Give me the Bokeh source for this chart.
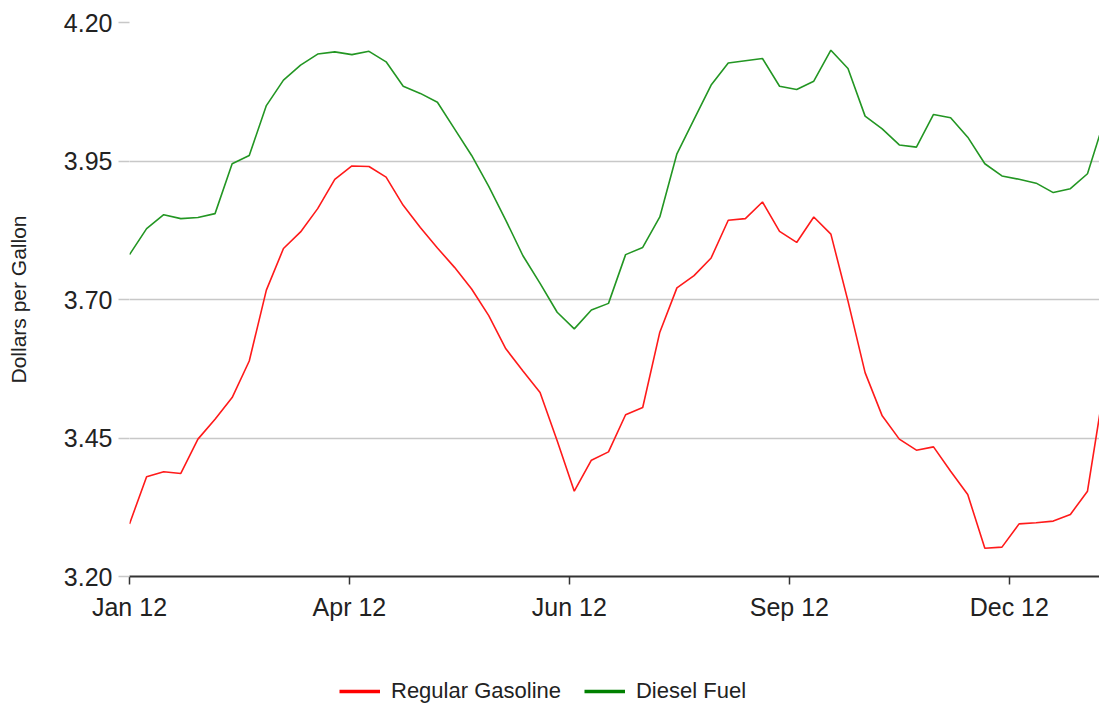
import pandas as pd
from datetime import datetime
from bokeh.plotting import figure
from bokeh.layouts import column
from bokeh.models import (FixedTicker, NumeralTickFormatter, DatetimeTickFormatter,
                          Range1d, Legend, LegendItem, ColumnDataSource)
from bokeh.embed import file_html
from bokeh.resources import INLINE

# ---------------- data ----------------
dates = [
    "2012-01-02", "2012-01-09", "2012-01-16", "2012-01-23", "2012-01-30",
    "2012-02-06", "2012-02-13", "2012-02-20", "2012-02-27", "2012-03-05",
    "2012-03-12", "2012-03-19", "2012-03-26", "2012-04-02", "2012-04-09",
    "2012-04-16", "2012-04-23", "2012-04-30", "2012-05-07", "2012-05-14",
    "2012-05-21", "2012-05-28", "2012-06-04", "2012-06-11", "2012-06-18",
    "2012-06-25", "2012-07-02", "2012-07-09", "2012-07-16", "2012-07-23",
    "2012-07-30", "2012-08-06", "2012-08-13", "2012-08-20", "2012-08-27",
    "2012-09-03", "2012-09-10", "2012-09-17", "2012-09-24", "2012-10-01",
    "2012-10-08", "2012-10-15", "2012-10-22", "2012-10-29", "2012-11-05",
    "2012-11-12", "2012-11-19", "2012-11-26", "2012-12-03", "2012-12-10",
    "2012-12-17", "2012-12-24", "2012-12-31", "2013-01-07", "2013-01-14",
    "2013-01-21", "2013-01-28", "2013-02-04",
]

regular_gasoline = [
    3.295, 3.380, 3.389, 3.386, 3.448, 3.484, 3.523, 3.589, 3.717, 3.792,
    3.822, 3.864, 3.917, 3.941, 3.940, 3.921, 3.870, 3.830, 3.793, 3.758,
    3.719, 3.671, 3.611, 3.571, 3.532, 3.445, 3.354, 3.410, 3.425, 3.492,
    3.505, 3.641, 3.721, 3.743, 3.775, 3.843, 3.846, 3.876, 3.823, 3.803,
    3.849, 3.818, 3.697, 3.568, 3.490, 3.448, 3.428, 3.434, 3.390, 3.348,
    3.251, 3.253, 3.295, 3.297, 3.300, 3.312, 3.354, 3.548,
]

diesel_fuel = [
    3.781, 3.828, 3.853, 3.846, 3.848, 3.855, 3.945, 3.960, 4.050, 4.096,
    4.123, 4.143, 4.147, 4.142, 4.148, 4.129, 4.085, 4.072, 4.056, 4.008,
    3.960, 3.904, 3.843, 3.779, 3.729, 3.677, 3.647, 3.681, 3.693, 3.781,
    3.794, 3.849, 3.963, 4.025, 4.087, 4.127, 4.131, 4.135, 4.085, 4.079,
    4.094, 4.150, 4.117, 4.031, 4.008, 3.979, 3.975, 4.034, 4.028, 3.993,
    3.945, 3.923, 3.917, 3.910, 3.893, 3.900, 3.927, 4.025,
]

x_tick_dates = ["2012-01-02", "2012-04-01", "2012-06-30", "2012-09-28", "2012-12-27"]
y_ticks = [3.20, 3.45, 3.70, 3.95, 4.20]
series_names = ["Regular Gasoline", "Diesel Fuel"]
series_colors = ["#ff1a1a", "#239623"]
legend_colors = ["#ff0000", "#008000"]

# ---------------- main chart ----------------
FONT = "Liberation Sans"
TEXT = "#222222"

src = ColumnDataSource(dict(
    date=pd.to_datetime(dates),
    gas=regular_gasoline,
    diesel=diesel_fuel,
))

p = figure(
    width=1099, height=640,
    x_axis_type="datetime",
    x_range=Range1d(datetime(2012, 1, 2), datetime(2013, 2, 1, 22)),
    y_range=Range1d(3.20, 4.20),
    output_backend="svg", toolbar_location=None,
    min_border_left=129, min_border_right=0, min_border_top=22, min_border_bottom=64,
)
p.outline_line_color = None
p.background_fill_color = "white"
p.border_fill_color = "white"

p.xgrid.grid_line_color = None
p.ygrid.grid_line_color = "#c8c8c8"
p.ygrid.grid_line_width = 1.5

p.yaxis.ticker = FixedTicker(ticks=y_ticks)
p.yaxis.formatter = NumeralTickFormatter(format="0.00")
p.yaxis.axis_line_color = None
p.yaxis.major_tick_line_color = "#c8c8c8"
p.yaxis.major_tick_line_width = 1.5
p.yaxis.major_tick_out = 11
p.yaxis.major_tick_in = 0
p.yaxis.minor_tick_line_color = None
p.yaxis.major_label_standoff = 6
p.yaxis.major_label_text_font = FONT
p.yaxis.major_label_text_font_size = "25px"
p.yaxis.major_label_text_color = TEXT
p.yaxis.axis_label = "Dollars per Gallon"
p.yaxis.axis_label_text_font = FONT
p.yaxis.axis_label_text_font_size = "21px"
p.yaxis.axis_label_text_font_style = "normal"
p.yaxis.axis_label_text_color = TEXT
p.yaxis.axis_label_standoff = 31

x_ticks_ms = [pd.Timestamp(d).value // 10**6 for d in x_tick_dates]
p.xaxis.ticker = FixedTicker(ticks=x_ticks_ms)
fmt = "%b %y"
p.xaxis.formatter = DatetimeTickFormatter(days=fmt, months=fmt, years=fmt, hours=fmt,
                                          minutes=fmt, seconds=fmt, milliseconds=fmt)
p.xaxis.axis_line_color = "#333333"
p.xaxis.axis_line_width = 2
p.xaxis.major_tick_line_color = "#333333"
p.xaxis.major_tick_line_width = 1.5
p.xaxis.major_tick_out = 8
p.xaxis.major_tick_in = 0
p.xaxis.minor_tick_line_color = None
p.xaxis.major_label_standoff = 8
p.xaxis.major_label_text_font = FONT
p.xaxis.major_label_text_font_size = "25px"
p.xaxis.major_label_text_color = TEXT

p.line("date", "gas", source=src, line_color=series_colors[0], line_width=1.6)
p.line("date", "diesel", source=src, line_color=series_colors[1], line_width=1.6)

# ---------------- legend strip ----------------
# A thin figure below the chart that only carries the legend. Its frame is
# aligned with the main chart's frame by the column layout. The series are
# drawn here too (with thicker swatch lines) but fall outside its range, so
# only the legend entries are visible.
p2 = figure(
    width=1099, height=66,
    x_range=Range1d(0, 1), y_range=Range1d(0, 66),
    x_axis_location=None, y_axis_location=None,
    output_backend="svg", toolbar_location=None,
    min_border_left=129, min_border_right=0, min_border_top=0, min_border_bottom=0,
)
p2.outline_line_color = None
p2.grid.grid_line_color = None
p2.background_fill_color = "white"
p2.border_fill_color = "white"

leg_r1 = p2.line("date", "gas", source=src, line_color=legend_colors[0], line_width=3.5)
leg_r2 = p2.line("date", "diesel", source=src, line_color=legend_colors[1], line_width=3.5)
legend = Legend(
    items=[LegendItem(label=series_names[0], renderers=[leg_r1]),
           LegendItem(label=series_names[1], renderers=[leg_r2])],
    orientation="horizontal",
    location=(210, 2),
    border_line_color=None,
    background_fill_alpha=0,
    padding=0, margin=0, spacing=23,
    label_standoff=11, glyph_width=41, glyph_height=20,
    label_text_font=FONT, label_text_font_size="22px", label_text_color=TEXT,
)
p2.add_layout(legend, "center")

layout = column(p, p2, spacing=0)
open("out.html", "w").write(file_html(layout, INLINE))
